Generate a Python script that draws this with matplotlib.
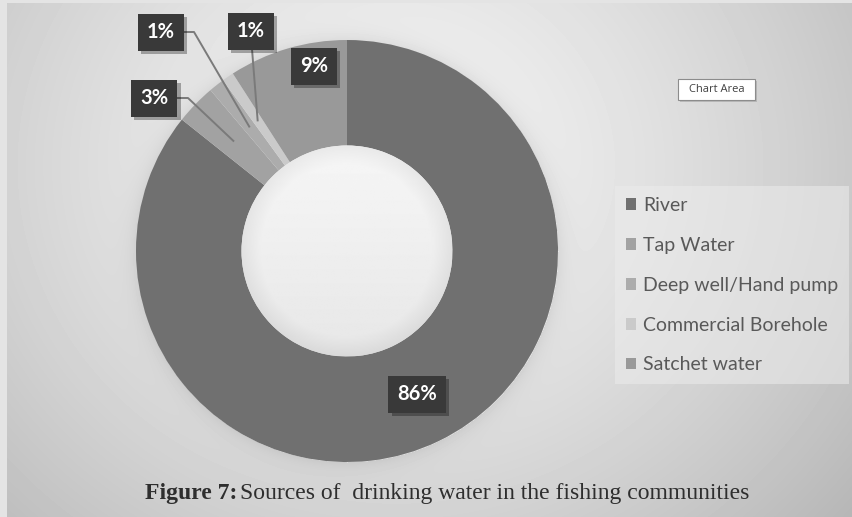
import numpy as np
import matplotlib.pyplot as plt
import matplotlib.patheffects as pe
from matplotlib.patches import Circle, Rectangle

# data
categories = ['River', 'Tap Water', 'Deep well/Hand pump', 'Commercial Borehole', 'Satchet water']
shares = [85.7, 3.1, 1.2, 0.9, 9.1]
pct_labels = ['86%', '3%', '1%', '1%', '9%']
colors = ['#707070', '#a2a2a2', '#acacac', '#cacaca', '#999999']

# layout (pixels, y from top)
W, H = 853, 517
label_px = [(417, 394), (154, 98), (161, 32), (251, 31), (314, 66)]
leader_px = [None, [(176, 98), (188, 98)], [(183, 32), (194, 32)], [(252, 49)], None]

fig = plt.figure(figsize=(W / 100, H / 100), dpi=100, facecolor='#e4e4e4')
ax = fig.add_axes([0, 0, 1, 1])

cx, cy, R = 347, H - 251, 211

# background gradient with soft shadow around ring
yy, xx = np.mgrid[3:H, 7:W].astype(float)
d = np.hypot(xx - 390, (yy - 165) * 1.1)
bg = 0.955 - 0.17 * (d / 470) ** 1.4
r = np.hypot(xx - 347, yy - 251)
bg -= 0.06 * np.exp(-np.clip(r - R, 0, None) / 9) * (r > R)
ax.imshow(np.clip(bg, 0, 1), cmap='gray', vmin=0, vmax=1, extent=(7, W, 0, H - 3),
          origin='upper', zorder=0, aspect='auto', interpolation='bilinear')

wedges, _ = ax.pie(shares, colors=colors, startangle=90, counterclock=False,
                   radius=R, center=(cx, cy), frame=True,
                   wedgeprops=dict(width=R * 0.5, edgecolor='none'))

# hole with light gradient
rh = R * 0.5
hy, hx = np.mgrid[-rh:rh:200j, -rh:rh:200j]
hr = np.hypot(hx, hy) / rh
hole_val = 0.965 - 0.03 * (hy / rh + 1) - 0.05 * np.clip(hr - 0.82, 0, None) / 0.18
himg = ax.imshow(hole_val, cmap='gray', vmin=0, vmax=1, origin='upper',
                 extent=(cx - rh, cx + rh, cy - rh, cy + rh), zorder=2, interpolation='bilinear')
hole = Circle((cx, cy), rh, facecolor='none', edgecolor='none', transform=ax.transData)
ax.add_patch(hole)
himg.set_clip_path(hole)

# data labels with leader lines
lbl_font = dict(family=['Lato', 'DejaVu Sans'], fontsize=14.5, fontweight='bold')
shadow = [pe.withSimplePatchShadow(offset=(2.5, -2.5), shadow_rgbFace='black', alpha=0.3)]
for w, txt, (lx, ly), lead in zip(wedges, pct_labels, label_px, leader_px):
    if lead is not None:
        mid = np.deg2rad((w.theta1 + w.theta2) / 2)
        px = [p[0] for p in lead] + [cx + 0.75 * R * np.cos(mid)]
        py = [H - p[1] for p in lead] + [cy + 0.75 * R * np.sin(mid)]
        ax.plot(px, py, color='#7a7a7a', lw=1.4, zorder=3)
    t = ax.text(lx, H - ly, txt, color='white', ha='center', va='center', zorder=5, **lbl_font)
    fig.canvas.draw()
    tw = t.get_window_extent().width
    bw, bh = tw + 18, 37
    box = Rectangle((lx - bw / 2, H - ly - bh / 2), bw, bh, fc='#393939', ec='none', zorder=4)
    box.set_path_effects(shadow)
    ax.add_patch(box)

# legend
leg = ax.legend(wedges, categories, loc='upper left',
                bbox_to_anchor=(615 / W, 1 - 186 / H), bbox_transform=fig.transFigure,
                frameon=True, fancybox=False, facecolor='#ececec', edgecolor='none',
                framealpha=0.55, prop=dict(family=['Lato', 'DejaVu Sans'], size=14),
                labelcolor='#595959', handlelength=0.55, handleheight=0.55,
                handletextpad=0.35, labelspacing=1.18, borderpad=0.55, borderaxespad=0)

# "Chart Area" tooltip
ax.add_patch(Rectangle((680, H - 102), 77, 21, fc='#9a9a9a', ec='none', alpha=0.5, zorder=5))
ax.add_patch(Rectangle((678, H - 100), 77, 21, fc='white', ec='#8c8c8c', lw=0.8, zorder=6))
ax.text(716.5, H - 89.5, 'Chart Area', ha='center', va='center', fontsize=8,
        family=['Open Sans', 'DejaVu Sans'], color='#404040', zorder=7)

# caption
cap = ax.text(145, H - 499, 'Figure 7:', family=['Liberation Serif'], fontweight='bold',
              fontsize=17, color='#2e2e2e', ha='left', va='baseline', zorder=5)
fig.canvas.draw()
bb = cap.get_window_extent()
ax.text(bb.x1 + 8, H - 499, 'Sources of  drinking water in the fishing communities',
        family=['Liberation Serif'], fontsize=17, color='#2e2e2e', ha='left', va='baseline', zorder=5)

ax.set_xlim(0, W)
ax.set_ylim(0, H)
ax.set_aspect('auto')
ax.axis('off')

fig.savefig('out.png', dpi=100, facecolor=fig.get_facecolor())
